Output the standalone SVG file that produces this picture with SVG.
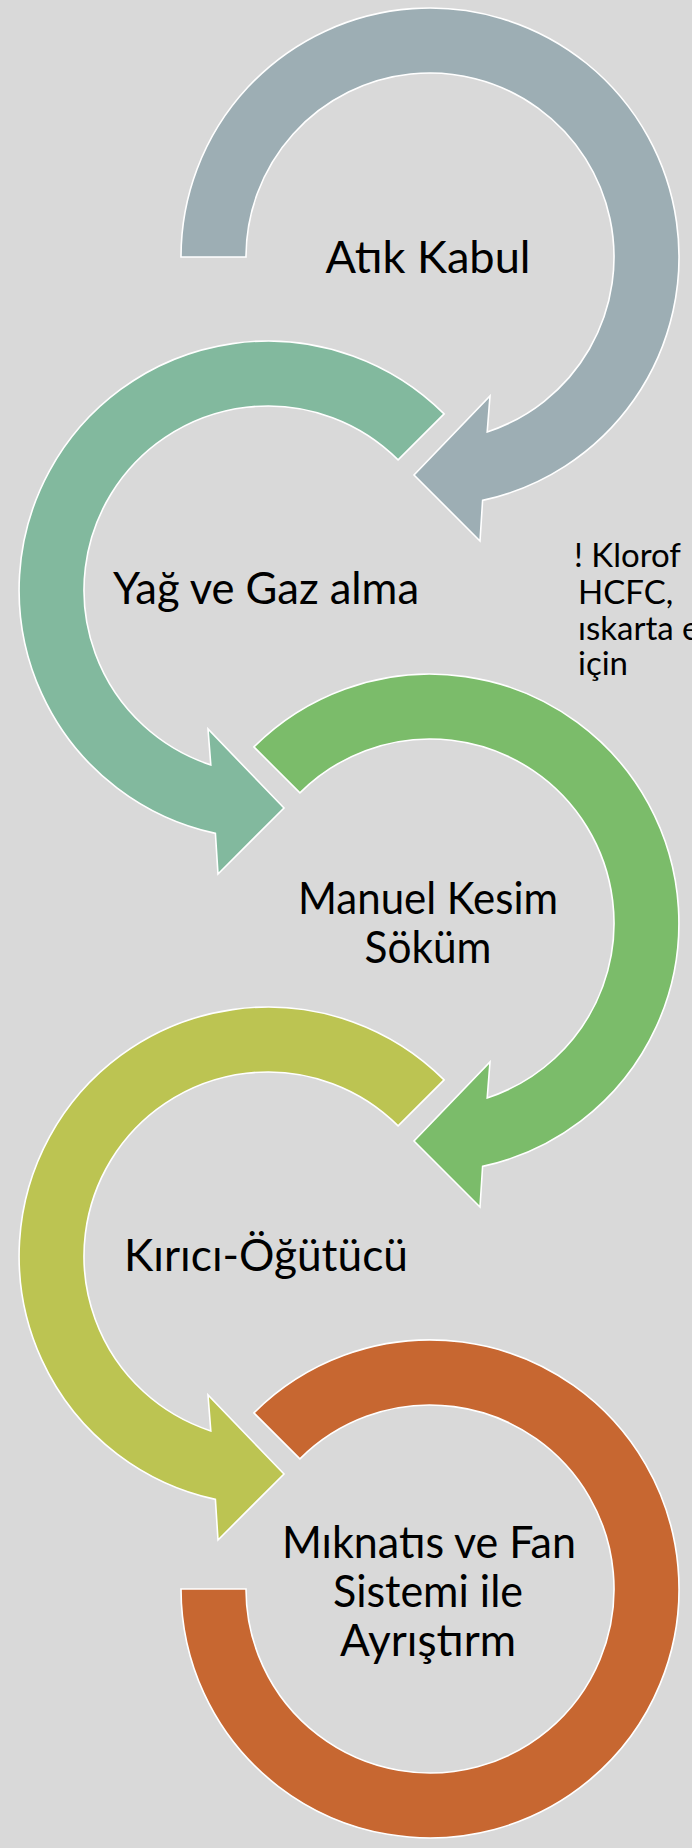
<svg xmlns="http://www.w3.org/2000/svg" width="692" height="1848" viewBox="0 0 692 1848">
<style>
.ring{stroke:#FFFFFF;stroke-width:1.6;stroke-linejoin:miter}
.lbl{font-family:Lato,"Open Sans","Noto Sans",sans-serif;font-size:44px;fill:#000000;text-anchor:middle}
.note{font-family:Lato,"Open Sans","Noto Sans",sans-serif;font-size:33px;fill:#000000}
</style>
<rect x="0" y="0" width="692" height="1848" fill="#D9D9D9"/>

<g id="node1">
<path class="ring" fill="#9DAEB4" d="M181,257 A249,249 0 1 1 482.6,500.4 L480,541 L414,475 L490,396 L487.2,431.9 A184,184 0 1 0 246,257 Z"/>
<text class="lbl" x="428" y="273" textLength="205" lengthAdjust="spacingAndGlyphs">Atık Kabul</text>
</g>

<g id="node2">
<path class="ring" fill="#82B99E" d="M444.1,413.9 A249,249 0 1 0 215.4,833.4 L218,874 L284,808 L208,729 L210.8,764.9 A184,184 0 1 1 398.1,459.9 Z"/>
<text class="lbl" x="266" y="604" textLength="306" lengthAdjust="spacingAndGlyphs">Yağ ve Gaz alma</text>
</g>

<g id="note">
<text class="note" x="574" y="567">! Klorof</text>
<text class="note" x="578" y="604">HCFC,</text>
<text class="note" x="578" y="640">ıskarta e</text>
<text class="note" x="578" y="675">için</text>
</g>

<g id="node3">
<path class="ring" fill="#7BBC6A" d="M253.9,746.9 A249,249 0 1 1 482.6,1166.4 L480,1207 L414,1141 L490,1062 L487.2,1097.9 A184,184 0 1 0 299.9,792.9 Z"/>
<text class="lbl" x="428" y="914" textLength="260" lengthAdjust="spacingAndGlyphs">Manuel Kesim</text>
<text class="lbl" x="428" y="963" textLength="127" lengthAdjust="spacingAndGlyphs">Söküm</text>
</g>

<g id="node4">
<path class="ring" fill="#BCC452" d="M444.1,1079.9 A249,249 0 1 0 215.4,1499.4 L218,1540 L284,1474 L208,1395 L210.8,1430.9 A184,184 0 1 1 398.1,1125.9 Z"/>
<text class="lbl" x="266" y="1271" textLength="284" lengthAdjust="spacingAndGlyphs">Kırıcı-Öğütücü</text>
</g>

<g id="node5">
<path class="ring" fill="#C76731" d="M253.9,1412.9 A249,249 0 1 1 181,1589 L246,1589 A184,184 0 1 0 299.9,1458.9 Z"/>
<text class="lbl" x="429" y="1558" textLength="294" lengthAdjust="spacingAndGlyphs">Mıknatıs ve Fan</text>
<text class="lbl" x="428" y="1607" textLength="190" lengthAdjust="spacingAndGlyphs">Sistemi ile</text>
<text class="lbl" x="428" y="1656" textLength="176" lengthAdjust="spacingAndGlyphs">Ayrıştırm</text>
</g>
</svg>
